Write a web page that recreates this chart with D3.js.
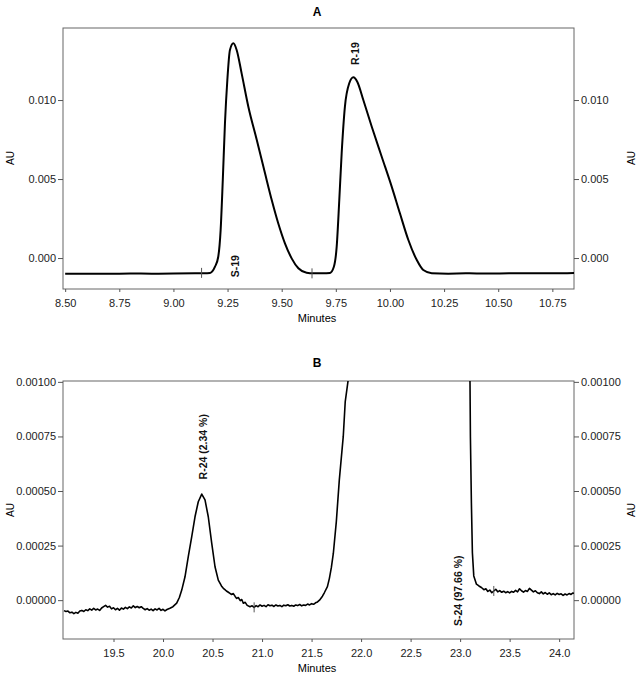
<!DOCTYPE html>
<html>
<head>
<meta charset="utf-8">
<script src="https://cdn.jsdelivr.net/npm/d3@7"></script>
<style>
  body { margin: 0; background: #fff; }
  svg { font-family: "Liberation Sans", Arial, sans-serif; }
  .axis path, .axis line { stroke: #555; }
  .axis text { font-size: 11px; fill: #222; }
</style>
</head>
<body>
<div id="chart"></div>
<script>
let width = 636
let height = 675

// panel A : retention time (min) and absorbance (AU)
let aTime = [8.50, 8.60, 8.70, 8.80, 8.90, 9.00, 9.10, 9.169, 9.192, 9.207, 9.218, 9.228, 9.238, 9.249, 9.261, 9.277,
  9.292, 9.315, 9.346, 9.385, 9.423, 9.454, 9.484, 9.515, 9.546, 9.577, 9.615, 9.646, 9.690,
  9.723, 9.741, 9.754, 9.766, 9.777, 9.792, 9.812, 9.831, 9.849, 9.877, 9.916, 9.962, 10.008, 10.046, 10.085,
  10.124, 10.154, 10.193, 10.269, 10.35, 10.45, 10.55, 10.65, 10.75, 10.85]
let aAU = [-0.00100, -0.00099, -0.00100, -0.00098, -0.00099, -0.00098, -0.00097, -0.00094, -0.00055, 0.00008, 0.00177, 0.00494, 0.00853, 0.01127, 0.01317, 0.01359,
  0.01317, 0.01169, 0.00958, 0.00747, 0.00536, 0.00367, 0.00220, 0.00093, -0.00002, -0.00065, -0.00093, -0.00097, -0.00097,
  -0.00094, -0.00055, 0.00072, 0.00367, 0.00663, 0.00958, 0.01106, 0.01144, 0.01116, 0.01000, 0.00831, 0.00641, 0.00452, 0.00283, 0.00114,
  -0.00013, -0.00076, -0.00096, -0.00099, -0.00097, -0.00098, -0.00097, -0.00096, -0.00097, -0.00095]

// panel B
let bTime = [19.00, 19.02, 19.04, 19.06, 19.08, 19.10, 19.12, 19.14, 19.16, 19.18, 19.20, 19.22, 19.24, 19.26, 19.28, 19.30,
  19.32, 19.34, 19.36, 19.38, 19.40, 19.42, 19.44, 19.46, 19.48, 19.50, 19.52, 19.54, 19.56, 19.58, 19.60, 19.62,
  19.64, 19.66, 19.68, 19.70, 19.72, 19.74, 19.76, 19.78, 19.80, 19.82, 19.84, 19.86, 19.88, 19.90, 19.92, 19.94,
  19.96, 19.98, 20.00, 20.02, 20.04, 20.07, 20.10, 20.138, 20.165, 20.189, 20.222, 20.255, 20.290, 20.323, 20.356, 20.391,
  20.424, 20.457, 20.492, 20.525, 20.558, 20.575, 20.59, 20.609, 20.625, 20.64, 20.66, 20.676, 20.69, 20.71, 20.73, 20.744,
  20.76, 20.78, 20.795, 20.811, 20.83, 20.85, 20.878, 20.90, 20.92, 20.94, 20.96, 20.98, 21.00, 21.02, 21.04, 21.06,
  21.08, 21.10, 21.12, 21.14, 21.16, 21.18, 21.20, 21.22, 21.24, 21.26, 21.28, 21.30, 21.32, 21.34, 21.36, 21.38,
  21.40, 21.42, 21.44, 21.46, 21.48, 21.50, 21.52, 21.54, 21.56, 21.58, 21.61, 21.63, 21.66, 21.68, 21.70, 21.72,
  21.75, 21.78, 21.82, 21.84, 21.87, 21.90, 23.09, 23.10, 23.104, 23.114, 23.124, 23.138, 23.165, 23.19, 23.215,
  23.24, 23.26, 23.28, 23.30, 23.32, 23.34, 23.36, 23.38, 23.40, 23.42, 23.44, 23.46, 23.48, 23.50, 23.52, 23.54,
  23.56, 23.58, 23.60, 23.62, 23.64, 23.66, 23.68, 23.70, 23.72, 23.74, 23.76, 23.78, 23.80, 23.82, 23.84, 23.86,
  23.88, 23.90, 23.92, 23.94, 23.96, 23.98, 24.00, 24.02, 24.04, 24.06, 24.08, 24.10, 24.12, 24.14, 24.15]
let bAU = [-0.000048, -0.000052, -0.000050, -0.000058, -0.000055, -0.000062, -0.000056, -0.000060, -0.000050, -0.000047, -0.000052, -0.000044, -0.000048, -0.000040, -0.000046, -0.000038,
  -0.000045, -0.000041, -0.000047, -0.000036, -0.000030, -0.000024, -0.000032, -0.000028, -0.000040, -0.000035, -0.000044, -0.000038, -0.000046, -0.000036, -0.000041, -0.000033,
  -0.000039, -0.000031, -0.000036, -0.000026, -0.000034, -0.000029, -0.000035, -0.000030, -0.000038, -0.000044, -0.000039, -0.000046, -0.000041, -0.000048, -0.000040, -0.000045,
  -0.000038, -0.000047, -0.000042, -0.000049, -0.000043, -0.000037, -0.000030, -0.000014, 0.000012, 0.000046, 0.000107, 0.000199, 0.000291, 0.000382, 0.000451, 0.000486,
  0.000459, 0.000382, 0.000260, 0.000153, 0.000092, 0.000078, 0.000065, 0.000054, 0.000048, 0.000042, 0.000036, 0.000031, 0.000026, 0.000030, 0.000016, 0.000008,
  0.000012, -0.000002, 0.000003, -0.000014, -0.000010, -0.000024, -0.000030, -0.000026, -0.000033, -0.000025, -0.000030, -0.000022, -0.000028, -0.000024, -0.000030, -0.000021,
  -0.000026, -0.000023, -0.000029, -0.000022, -0.000027, -0.000024, -0.000030, -0.000023, -0.000026, -0.000021, -0.000027, -0.000024, -0.000028, -0.000022, -0.000025, -0.000020,
  -0.000026, -0.000022, -0.000024, -0.000018, -0.000022, -0.000016, -0.000019, -0.000012, -0.000008, 0.000000, 0.000018, 0.000035, 0.000062, 0.000100, 0.000150, 0.000215,
  0.000360, 0.000550, 0.000750, 0.000910, 0.001010, 0.001300, 0.001300, 0.000990, 0.000747, 0.000444, 0.000217, 0.000111, 0.000073, 0.000065, 0.000058,
  0.000048, 0.000052, 0.000040, 0.000046, 0.000034, 0.000042, 0.000050, 0.000038, 0.000044, 0.000036, 0.000041, 0.000034, 0.000039, 0.000033, 0.000040, 0.000036,
  0.000045, 0.000038, 0.000052, 0.000043, 0.000037, 0.000044, 0.000040, 0.000054, 0.000046, 0.000038, 0.000043, 0.000034, 0.000030, 0.000038, 0.000029, 0.000035,
  0.000027, 0.000033, 0.000025, 0.000030, 0.000024, 0.000031, 0.000026, 0.000029, 0.000022, 0.000028, 0.000024, 0.000030, 0.000026, 0.000033, 0.000030]

// tick values
let aXTicks = [8.50, 8.75, 9.00, 9.25, 9.50, 9.75, 10.00, 10.25, 10.50, 10.75]
let aYTicks = [0.000, 0.005, 0.010]
let bXTicks = [19.5, 20.0, 20.5, 21.0, 21.5, 22.0, 22.5, 23.0, 23.5, 24.0]
let bYTicks = [0.00000, 0.00025, 0.00050, 0.00075, 0.00100]

// integration marks and peak labels
let aMarks = [9.13, 9.64]
let bMarks = [20.92, 23.34]
let aLabels = [{text: 'S-19', t: 9.283, v: -0.00122}, {text: 'R-19', t: 9.840, v: 0.01222}]
let bLabels = [{text: 'R-24 (2.34 %)', t: 20.40, v: 0.000553}, {text: 'S-24 (97.66 %)', t: 22.975, v: -0.000119}]

let svg = d3.select('#chart').append('svg')
  .attr('width', width)
  .attr('height', height)

let panels = [
  {id: 'A', top: 28, bottom: 289, xDom: [8.49, 10.85], yDom: [-0.00196, 0.01456], time: aTime, au: aAU,
    xTicks: aXTicks, yTicks: aYTicks, xFmt: d3.format('.2f'), yFmt: d3.format('.3f'), marks: aMarks, labels: aLabels,
    curve: d3.curveMonotoneX, lw: 2, titleY: 16, minutesY: 322, auY: 158},
  {id: 'B', top: 381, bottom: 639, xDom: [18.99, 24.15], yDom: [-0.000178, 0.001004], time: bTime, au: bAU,
    xTicks: bXTicks, yTicks: bYTicks, xFmt: d3.format('.1f'), yFmt: d3.format('.5f'), marks: bMarks, labels: bLabels,
    curve: d3.curveLinear, lw: 1.6, titleY: 367, minutesY: 672, auY: 510}
]

let left = 63
let right = 574

panels.forEach((p) => {
  let xScale = d3.scaleLinear().domain(p.xDom).range([left, right])
  let yScale = d3.scaleLinear().domain(p.yDom).range([p.bottom, p.top])

  let g = svg.append('g')

  // frame
  g.append('rect')
    .attr('x', left).attr('y', p.top)
    .attr('width', right - left).attr('height', p.bottom - p.top)
    .attr('fill', 'none').attr('stroke', '#666').attr('stroke-width', 1)

  g.append('g').attr('class', 'axis')
    .attr('transform', 'translate(0,' + p.bottom + ')')
    .call(d3.axisBottom(xScale).tickValues(p.xTicks).tickFormat(p.xFmt).tickSize(3).tickPadding(7))
    .call((a) => a.select('.domain').remove())

  g.append('g').attr('class', 'axis')
    .attr('transform', 'translate(' + left + ',0)')
    .call(d3.axisLeft(yScale).tickValues(p.yTicks).tickFormat(p.yFmt).tickSize(5).tickPadding(2))
    .call((a) => a.select('.domain').remove())

  g.append('g').attr('class', 'axis')
    .attr('transform', 'translate(' + right + ',0)')
    .call(d3.axisRight(yScale).tickValues(p.yTicks).tickFormat(p.yFmt).tickSize(5).tickPadding(2))
    .call((a) => a.select('.domain').remove())

  // clip for off-scale trace
  svg.append('clipPath').attr('id', 'clip' + p.id)
    .append('rect').attr('x', left).attr('y', p.top)
    .attr('width', right - left).attr('height', p.bottom - p.top)

  let pts = p.time.map((t, i) => [t, p.au[i]])
  let line = d3.line()
    .x((d) => xScale(d[0]))
    .y((d) => yScale(d[1]))
    .curve(p.curve)

  g.append('path')
    .datum(pts)
    .attr('clip-path', 'url(#clip' + p.id + ')')
    .attr('d', line)
    .attr('fill', 'none')
    .attr('stroke', '#000')
    .attr('stroke-width', p.lw)
    .attr('stroke-linejoin', 'round')

  // small integration marks on the baseline
  g.selectAll('.mark')
    .data(p.marks)
    .enter().append('line')
    .attr('x1', (d) => xScale(d)).attr('x2', (d) => xScale(d))
    .attr('y1', (d) => yScale(p.au[d3.bisectLeft(p.time, d)]) - 5)
    .attr('y2', (d) => yScale(p.au[d3.bisectLeft(p.time, d)]) + 5)
    .attr('stroke', '#555').attr('stroke-width', 1)

  // peak labels, rotated
  g.selectAll('.plabel')
    .data(p.labels)
    .enter().append('text')
    .attr('transform', (d) => 'translate(' + (xScale(d.t) + 4) + ',' + yScale(d.v) + ') rotate(-90)')
    .attr('font-size', '10.5px')
    .attr('font-weight', 'bold')
    .attr('fill', '#111')
    .text((d) => d.text)

  // title
  g.append('text')
    .attr('x', 317).attr('y', p.titleY)
    .attr('text-anchor', 'middle')
    .attr('font-size', '12px').attr('font-weight', 'bold')
    .text(p.id)

  g.append('text')
    .attr('x', 317).attr('y', p.minutesY)
    .attr('text-anchor', 'middle')
    .attr('font-size', '11px')
    .text('Minutes')

  ;[10, 631].forEach((x) => {
    g.append('text')
      .attr('transform', 'translate(' + (x + 4) + ',' + p.auY + ') rotate(-90)')
      .attr('text-anchor', 'middle')
      .attr('font-size', '10px')
      .text('AU')
  })
})
</script>
</body>
</html>
